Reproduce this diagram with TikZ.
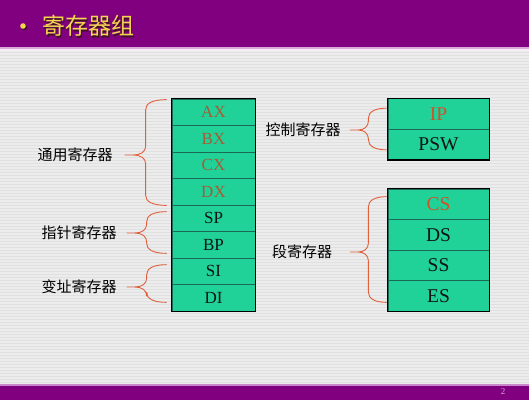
\documentclass[tikz,border=0pt]{standalone}
\usepackage{fontspec}
\setmainfont{Liberation Serif}
\newfontfamily\cjk{Noto Sans CJK SC}
\usetikzlibrary{calc}
\definecolor{band}{RGB}{128,0,128}
\definecolor{lilac}{RGB}{220,170,220}
\definecolor{bgbase}{RGB}{224,224,224}
\definecolor{bgstripe}{RGB}{236,236,236}
\definecolor{regfill}{RGB}{32,210,152}
\definecolor{regsep}{RGB}{25,105,85}
\definecolor{regbrown}{RGB}{160,95,55}
\definecolor{regred}{RGB}{212,80,40}
\definecolor{regdark}{RGB}{15,20,20}
\definecolor{bracecol}{RGB}{225,95,60}
\definecolor{titleyellow}{RGB}{245,212,80}
\definecolor{titleshade}{RGB}{60,20,30}
\definecolor{pagenum}{RGB}{215,165,215}
\tikzset{
  lreg/.style={draw=regsep, line width=0.7pt, fill=regfill, minimum width=83pt,
    minimum height=26.5pt, inner sep=0pt, font=\fontsize{17}{17}\selectfont},
  rreg/.style={draw=regsep, line width=0.7pt, fill=regfill, minimum width=101pt,
    minimum height=30.5pt, inner sep=0pt, font=\fontsize{19.5}{19.5}\selectfont},
  outerbox/.style={draw=black, line width=1.3pt},
  grouplabel/.style={font=\cjk\fontsize{15}{15}\selectfont, text=black, inner sep=0pt},
  bracepen/.style={draw=bracecol, line width=0.9pt, line join=round},
  titletext/.style={font=\cjk\fontsize{23}{23}\selectfont, inner sep=0pt, anchor=west}
}
\newcommand\regbrace[3]{%
  \path[bracepen] let \p1=(#1), \p2=(#2), \p3=(#3), \p4=($(#1)!0.5!(#3)$) in
    (\x1,\y1) .. controls ({\x4+6pt},\y1) and (\x4,{\y1-4pt}) .. (\x4,{\y1-10pt})
    -- (\x4,{\y3+9pt}) .. controls (\x4,{\y3+3pt}) and ({\x4-5pt},\y3) .. ({\x3+8pt},\y3)
    -- (\x3,\y3)
    (\x2,\y2) .. controls ({\x4+6pt},\y2) and (\x4,{\y2+4pt}) .. (\x4,{\y2+10pt})
    -- (\x4,{\y3-9pt}) .. controls (\x4,{\y3-3pt}) and ({\x4-5pt},\y3) .. ({\x3+8pt},\y3);
}
\begin{document}
\begin{tikzpicture}[x=1pt,y=-1pt]
\useasboundingbox (0,0) rectangle (529,400);
% background
\fill[bgbase] (0,0) rectangle (529,400);
\foreach \s in {50,53,...,383} \fill[bgstripe] (0,\s) rectangle (529,\s+1.5);
% top band
\fill[band] (0,0) rectangle (529,47);
\fill[lilac] (0,47) rectangle (529,49);
\fill[white!92!band] (0,49) rectangle (529,50.5);
% bottom band
\fill[lilac!80!band] (0,384) rectangle (529,385.5);
\fill[band] (0,385.5) rectangle (529,400);
\node[text=pagenum, font=\fontsize{9}{9}\selectfont, inner sep=0pt] (page) at (503,392) {2};
% title
\fill[titleshade] (24.3,27.3) circle (2.8);
\fill[titleyellow] (23,26) circle (2.8);
\node[titletext, text=titleshade] (titleshadow) at (43.5,27.5) {寄存器组};
\node[titletext, text=titleyellow] (title) at (42,26) {寄存器组};
% left column registers
\foreach \n/\c [count=\i from 0] in {AX/regbrown,BX/regbrown,CX/regbrown,DX/regbrown,SP/regdark,BP/regdark,SI/regdark,DI/regdark}
  \node[lreg, text=\c] (\n) at (213.5,{99+26.5*(\i+0.5)}) {\n};
\draw[outerbox] (AX.north west) rectangle (DI.south east);
% right control registers
\node[rreg, text=regred] (IP) at (438.5,113.75) {IP};
\node[rreg, text=regdark] (PSW) at (438.5,144.25) {PSW};
\draw[outerbox] (IP.north west) rectangle (PSW.south east);
% right segment registers
\foreach \n/\c [count=\i from 0] in {CS/regred,DS/regdark,SS/regdark,ES/regdark}
  \node[rreg, text=\c] (\n) at (438.5,{189+30.5*(\i+0.5)}) {\n};
\draw[outerbox] (CS.north west) rectangle (ES.south east);
% group labels
\node[grouplabel] (gen) at (75,155) {通用寄存器};
\node[grouplabel] (ptr) at (79,233) {指针寄存器};
\node[grouplabel] (idx) at (79,287) {变址寄存器};
\node[grouplabel] (ctl) at (303,130) {控制寄存器};
\node[grouplabel] (seg) at (302,252) {段寄存器};
% brace end points and tips
\coordinate (genT) at ($(AX.north west)+(-5,1)$);
\coordinate (genB) at ($(DX.south west)+(-5,0)$);
\coordinate (genP) at ($(gen.east)+(12,0)$);
\coordinate (ptrT) at ($(SP.north west)+(-5,7)$);
\coordinate (ptrB) at ($(BP.south west)+(-5,-5)$);
\coordinate (ptrP) at ($(ptr.east)+(10,0)$);
\coordinate (idxT) at ($(SI.north west)+(-5,7)$);
\coordinate (idxB) at ($(DI.south west)+(-5,-9)$);
\coordinate (idxP) at ($(idx.east)+(10,0)$);
\coordinate (ctlT) at ($(IP.north west)+(-1,10)$);
\coordinate (ctlB) at ($(PSW.south west)+(-1,-10)$);
\coordinate (ctlP) at ($(ctl.east)+(9.5,0)$);
\coordinate (segT) at ($(CS.north west)+(-1,8)$);
\coordinate (segB) at ($(ES.south west)+(-1,-9)$);
\coordinate (segP) at ($(seg.east)+(18,0)$);
\regbrace{genT}{genB}{genP}
\regbrace{ptrT}{ptrB}{ptrP}
\regbrace{idxT}{idxB}{idxP}
\regbrace{ctlT}{ctlB}{ctlP}
\regbrace{segT}{segB}{segP}
\end{tikzpicture}
\end{document}
